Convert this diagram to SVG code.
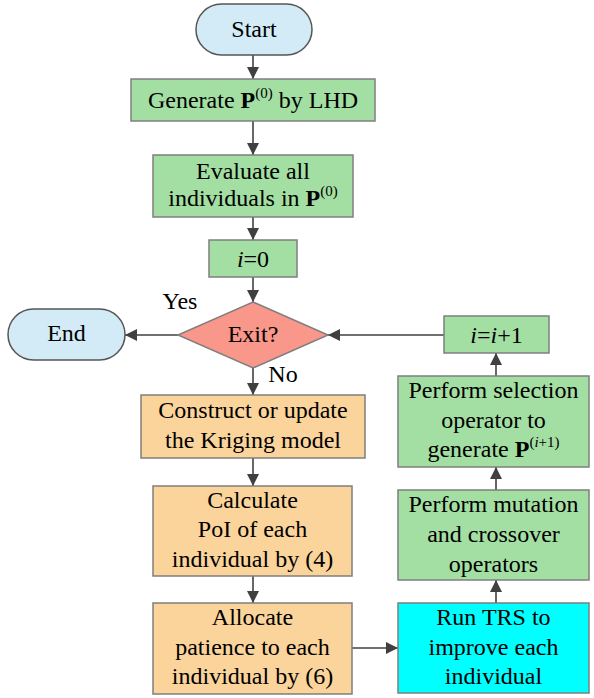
<svg xmlns="http://www.w3.org/2000/svg" width="594" height="698" viewBox="0 0 594 698">
  <defs>
    <marker id="arrow" markerUnits="userSpaceOnUse" markerWidth="13" markerHeight="12" refX="12" refY="6" orient="auto">
      <path d="M0,0 L12,6 L0,12 Z" fill="#404040"/>
    </marker>
  </defs>
  <style>
    .sup { font-size: 15px; }
    .b { font-weight: bold; }
    .it { font-style: italic; }
    .term { fill: #d3ebf7; stroke: #555; stroke-width: 1.5; }
    .green { fill: #a3dfa3; stroke: #7f7f7f; stroke-width: 1.5; }
    .orange { fill: #fbd49b; stroke: #7f7f7f; stroke-width: 1.5; }
    .cyan { fill: #00ffff; stroke: #7f7f7f; stroke-width: 1.5; }
    .dec { fill: #f8978a; stroke: #7f7f7f; stroke-width: 1.5; }
    .conn line { stroke: #404040; stroke-width: 1.6; marker-end: url(#arrow); }
  </style>

  <!-- connectors -->
  <g id="connectors" class="conn">
    <line x1="253" y1="55" x2="253" y2="79"/>
    <line x1="253" y1="121" x2="253" y2="155"/>
    <line x1="253" y1="217" x2="253" y2="240"/>
    <line x1="253" y1="277" x2="253" y2="302"/>
    <line x1="178" y1="335" x2="125" y2="335"/>
    <line x1="253" y1="368" x2="253" y2="395"/>
    <line x1="253" y1="458" x2="253" y2="486"/>
    <line x1="253" y1="576" x2="253" y2="603"/>
    <line x1="352" y1="648" x2="398" y2="648"/>
    <line x1="496" y1="603" x2="496" y2="580"/>
    <line x1="496" y1="490" x2="496" y2="467"/>
    <line x1="496" y1="376" x2="496" y2="353"/>
    <line x1="444" y1="335" x2="328" y2="335"/>
  </g>

  <!-- all labels share one serif face, set once on this group -->
  <g font-family="Liberation Serif, serif" font-size="24" text-anchor="middle" fill="#000">
    <g id="start">
      <rect class="term" x="196" y="4" width="116" height="51" rx="25.5"/>
      <text x="254" y="37">Start</text>
    </g>

    <g id="generate">
      <rect class="green" x="131" y="79" width="244" height="42"/>
      <text x="253" y="108">Generate  <tspan class="b">P</tspan><tspan class="sup" dy="-10">(0)</tspan><tspan dy="10"> by LHD</tspan></text>
    </g>

    <g id="evaluate">
      <rect class="green" x="153" y="155" width="200" height="62"/>
      <text x="253" y="179">Evaluate all</text>
      <text x="253" y="206">individuals in <tspan class="b">P</tspan><tspan class="sup" dy="-10">(0)</tspan></text>
    </g>

    <g id="init-i">
      <rect class="green" x="209" y="240" width="88" height="37"/>
      <text x="253" y="267"><tspan class="it">i</tspan>=0</text>
    </g>

    <g id="exit">
      <polygon class="dec" points="253,302 328,335 253,368 178,335"/>
      <text x="253" y="342">Exit?</text>
    </g>

    <g id="end">
      <rect class="term" x="8" y="309" width="117" height="51" rx="25.5"/>
      <text x="66.5" y="341">End</text>
    </g>

    <g id="labels">
      <text x="180" y="309">Yes</text>
      <text x="283" y="382">No</text>
    </g>

    <g id="increment">
      <rect class="green" x="444" y="316" width="105" height="37"/>
      <text x="496.5" y="343"><tspan class="it">i</tspan>=<tspan class="it">i</tspan>+1</text>
    </g>

    <g id="construct">
      <rect class="orange" x="141" y="395" width="224" height="63"/>
      <text x="253" y="418">Construct or update</text>
      <text x="253" y="448">the Kriging model</text>
    </g>

    <g id="calculate">
      <rect class="orange" x="153" y="486" width="199" height="90"/>
      <text x="252.5" y="508">Calculate</text>
      <text x="252.5" y="537">PoI of each</text>
      <text x="252.5" y="567">individual by (4)</text>
    </g>

    <g id="allocate">
      <rect class="orange" x="153" y="603" width="199" height="91"/>
      <text x="252.5" y="625">Allocate</text>
      <text x="252.5" y="655">patience to each</text>
      <text x="252.5" y="684">individual by (6)</text>
    </g>

    <g id="selection">
      <rect class="green" x="398" y="376" width="191" height="91"/>
      <text x="493.5" y="398">Perform selection</text>
      <text x="493.5" y="428">operator to</text>
      <text x="493.5" y="457">generate <tspan class="b">P</tspan><tspan class="sup" dy="-10">(<tspan class="it">i</tspan>+1)</tspan></text>
    </g>

    <g id="mutation">
      <rect class="green" x="398" y="490" width="191" height="90"/>
      <text x="493.5" y="512">Perform mutation</text>
      <text x="493.5" y="542">and crossover</text>
      <text x="493.5" y="572">operators</text>
    </g>

    <g id="trs">
      <rect class="cyan" x="398" y="603" width="191" height="90"/>
      <text x="493.5" y="625">Run TRS to</text>
      <text x="493.5" y="655">improve each</text>
      <text x="493.5" y="684">individual</text>
    </g>
  </g>
</svg>
